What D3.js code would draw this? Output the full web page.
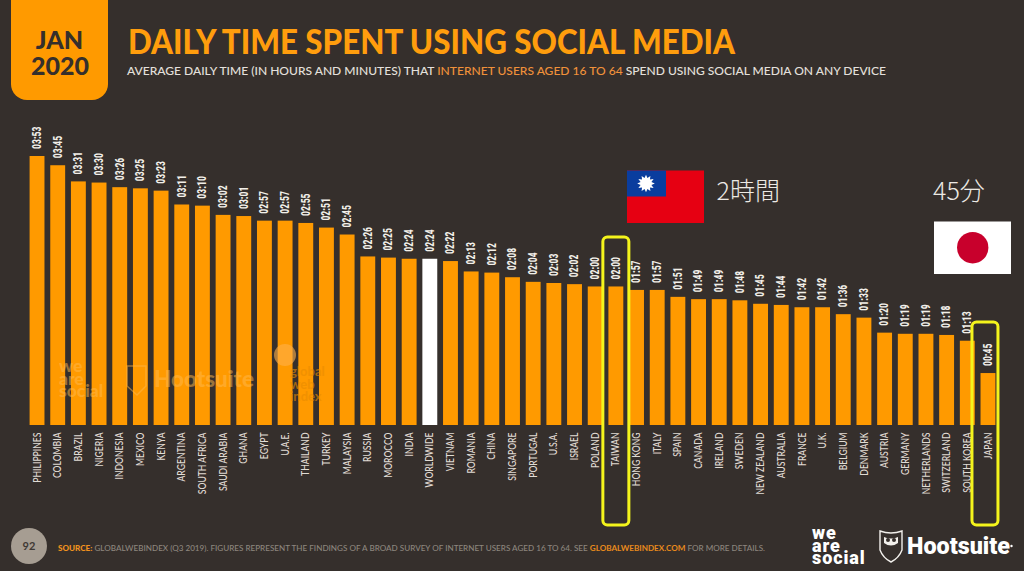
<!DOCTYPE html>
<html><head><meta charset="utf-8">
<script src="https://cdn.jsdelivr.net/npm/d3@7"></script>
<style>html,body{margin:0;padding:0;background:#352f2c;overflow:hidden}svg{display:block}</style>
</head><body><svg id="c" width="1024" height="571"></svg>
<script>
const categories=["PHILIPPINES","COLOMBIA","BRAZIL","NIGERIA","INDONESIA","MEXICO","KENYA","ARGENTINA","SOUTH AFRICA","SAUDI ARABIA","GHANA","EGYPT","U.A.E.","THAILAND","TURKEY","MALAYSIA","RUSSIA","MOROCCO","INDIA","WORLDWIDE","VIETNAM","ROMANIA","CHINA","SINGAPORE","PORTUGAL","U.S.A.","ISRAEL","POLAND","TAIWAN","HONG KONG","ITALY","SPAIN","CANADA","IRELAND","SWEDEN","NEW ZEALAND","AUSTRALIA","FRANCE","U.K.","BELGIUM","DENMARK","AUSTRIA","GERMANY","NETHERLANDS","SWITZERLAND","SOUTH KOREA","JAPAN"];
const timeLabels=["03:53","03:45","03:31","03:30","03:26","03:25","03:23","03:11","03:10","03:02","03:01","02:57","02:57","02:55","02:51","02:45","02:26","02:25","02:24","02:24","02:22","02:13","02:12","02:08","02:04","02:03","02:02","02:00","02:00","01:57","01:57","01:51","01:49","01:49","01:48","01:45","01:44","01:42","01:42","01:36","01:33","01:20","01:19","01:19","01:18","01:13","00:45"];
const highlighted=["TAIWAN","JAPAN"];
const worldwide="WORLDWIDE";
const minutes=timeLabels.map(t=>{const [h,m]=t.split(":").map(Number);return h*60+m;});

const svg=d3.select("#c");
const BG="#352f2c",OR="#ff9a00";
svg.append("rect").attr("width",1024).attr("height",571).attr("fill",BG);

const x=d3.scaleBand().domain(categories).range([26.7,998.3]).paddingInner(.28).paddingOuter(.14);
const y=d3.scaleLinear().domain([0,233]).range([425,156]);

// badge
svg.append("path").attr("d","M11,0H108V84a16,16 0 0 1 -16,16H27a16,16 0 0 1 -16,-16Z").attr("fill",OR);
const sans="Lato, 'Open Sans', sans-serif";
const badge=svg.append("g").attr("font-family",sans).attr("font-weight",900).attr("fill",BG).attr("text-anchor","middle");
badge.append("text").attr("x",59.5).attr("y",49).attr("font-size",25).text("JAN");
badge.append("text").attr("x",60).attr("y",75).attr("font-size",25).text("2020");

// title
svg.append("text").attr("x",128).attr("y",54).attr("font-family",sans).attr("font-weight",900).attr("font-size",35)
  .attr("fill","#ff9d0d").attr("textLength",607).attr("lengthAdjust","spacingAndGlyphs").text("DAILY TIME SPENT USING SOCIAL MEDIA");
const sub=svg.append("text").attr("x",127).attr("y",75).attr("font-family",sans).attr("font-weight",500).attr("font-size",12)
  .attr("fill","#e4e0dc").attr("textLength",759).attr("lengthAdjust","spacingAndGlyphs");
sub.append("tspan").text("AVERAGE DAILY TIME (IN HOURS AND MINUTES) THAT ");
sub.append("tspan").attr("fill","#f0913a").text("INTERNET USERS AGED 16 TO 64");
sub.append("tspan").text(" SPEND USING SOCIAL MEDIA ON ANY DEVICE");

// bars
const data=categories.map((c,i)=>({c,v:minutes[i],t:timeLabels[i]}));
svg.append("g").selectAll("rect").data(data).join("rect")
  .attr("x",d=>x(d.c)).attr("width",x.bandwidth()).attr("y",d=>y(d.v)).attr("height",d=>y(0)-y(d.v))
  .attr("fill",d=>d.c===worldwide?"#ffffff":OR);

// watermarks
function stacked(g,lines,xx,y0,step){
  const t=g.append("text").attr("x",xx).attr("y",y0);
  lines.forEach((s,i)=>t.append("tspan").attr("x",xx).attr("y",y0+i*step).text(s));
  return t;
}
const wm=svg.append("g").attr("fill","#ffb84d").attr("opacity",.5).attr("font-family",sans).attr("font-weight",900);
stacked(wm,["we","are","social"],59,372,12.5).attr("font-size",17.5);
wm.append("text").attr("x",154).attr("y",387).attr("font-size",22).attr("textLength",100).attr("lengthAdjust","spacingAndGlyphs").text("Hootsuite");
wm.append("path").attr("d","M127,366h19v20l-9,9l-10,-9Z").attr("fill","none").attr("stroke","#ffb84d").attr("stroke-width",1.5);
const wm2=svg.append("g").attr("fill","#e98c00").attr("opacity",.6).attr("font-family",sans).attr("font-weight",700);
wm2.append("circle").attr("cx",285).attr("cy",355).attr("r",11).attr("fill","#ffb14a");
stacked(wm2,["global","web","index"],290,376,12.5).attr("font-size",13);

// value labels
svg.append("g").selectAll("text").data(data).join("text")
  .attr("transform",d=>`translate(${x(d.c)+x.bandwidth()/2+3.8},${y(d.v)-7}) rotate(-90)`)
  .attr("font-family","'Liberation Sans Narrow','Roboto Condensed',Roboto,sans-serif").attr("font-weight",700)
  .attr("font-size",12).attr("fill","#f2efe9").attr("textLength",22.5).attr("lengthAdjust","spacingAndGlyphs").text(d=>d.t);

// category axis
const axis=svg.append("g").attr("transform","translate(0,425)").call(d3.axisBottom(x).tickSize(0));
axis.select(".domain").remove();
axis.selectAll("text").attr("font-family",sans).attr("font-weight",500).attr("font-size",10.5).attr("fill","#e0dbd4")
  .attr("text-anchor","end").attr("dy",0).attr("y",0)
  .attr("transform","translate(3.6,7.5) rotate(-90) scale(.82,1)");

// highlight frames
const frame=[{c:"TAIWAN",top:237,dx:0},{c:"JAPAN",top:322,dx:-3}];
svg.append("g").selectAll("rect").data(frame.filter(f=>highlighted.includes(f.c))).join("rect")
  .attr("x",f=>x(f.c)+x.bandwidth()/2-13+f.dx).attr("width",26).attr("y",f=>f.top).attr("height",f=>525-f.top)
  .attr("rx",4.5).attr("fill","none").attr("stroke","#f4f41c").attr("stroke-width",3);

// Taiwan flag
const tw=svg.append("g").attr("transform","translate(627,170.5)");
tw.append("rect").attr("width",77).attr("height",52.5).attr("fill","#e60012");
tw.append("rect").attr("width",39).attr("height",26).attr("fill","#0a3d9e");
const rays=d3.range(24).map(i=>{const a=i*Math.PI/12,r=i%2?5.6:8.8;return [19+r*Math.sin(a),13-r*Math.cos(a)];});
tw.append("polygon").attr("points",rays.map(p=>p.join(",")).join(" ")).attr("fill","#fff");
tw.append("circle").attr("cx",19).attr("cy",13).attr("r",4.6).attr("fill","#fff");
// Japan flag
const jp=svg.append("g").attr("transform","translate(934,221.5)");
jp.append("rect").attr("width",77).attr("height",52.5).attr("fill","#fff");
jp.append("circle").attr("cx",38.7).attr("cy",26.2).attr("r",15.7).attr("fill","#c8002c");

const cjk=svg.append("g").attr("font-family","'Noto Sans CJK JP',sans-serif").attr("font-weight",300).attr("font-size",25).attr("fill","#ece9e4");
cjk.append("text").attr("x",716.5).attr("y",200).text("2時間");
cjk.append("text").attr("x",933).attr("y",200).text("45分");

// footer
svg.append("circle").attr("cx",29).attr("cy",546).attr("r",18).attr("fill","#a69d92");
svg.append("text").attr("x",29).attr("y",550).attr("text-anchor","middle").attr("font-family",sans).attr("font-weight",700).attr("font-size",11).attr("fill","#3f3935").text("92");
const src=svg.append("text").attr("x",58).attr("y",550.5).attr("font-family",sans).attr("font-weight",500).attr("font-size",8)
  .attr("fill","#8d867e").attr("textLength",707).attr("lengthAdjust","spacingAndGlyphs");
src.append("tspan").attr("fill","#f0921e").attr("font-weight",900).text("SOURCE:");
src.append("tspan").text(" GLOBALWEBINDEX (Q3 2019). FIGURES REPRESENT THE FINDINGS OF A BROAD SURVEY OF INTERNET USERS AGED 16 TO 64. SEE ");
src.append("tspan").attr("fill","#e88a1c").attr("font-weight",700).text("GLOBALWEBINDEX.COM");
src.append("tspan").text(" FOR MORE DETAILS.");

// logos
const ws=svg.append("g").attr("font-family","Roboto,Inter,sans-serif").attr("font-weight",900).attr("fill","#fff");
stacked(ws,["we","are","social"],812,539,12.5).attr("font-size",18).attr("letter-spacing",.9);
const owl=svg.append("g").attr("fill","none").attr("stroke","#f2f0ec").attr("stroke-width",1.4);
owl.append("path").attr("d","M880,531q11,4 22,0v19q-3,8 -11,12q-8,-4 -11,-12Z");
owl.append("path").attr("d","M884,537q7,3 14,0v6q-7,5 -14,0Z").attr("fill","#f2f0ec").attr("stroke","none");
owl.append("circle").attr("cx",888).attr("cy",540).attr("r",2).attr("fill",BG).attr("stroke","none");
owl.append("circle").attr("cx",894).attr("cy",540).attr("r",2).attr("fill",BG).attr("stroke","none");
svg.append("text").attr("x",907).attr("y",554).attr("font-family","Roboto,Inter,sans-serif").attr("font-weight",900).attr("font-size",23.5).attr("fill","#fff").attr("textLength",103).attr("lengthAdjust","spacingAndGlyphs").text("Hootsuite");
svg.append("circle").attr("cx",1011.5).attr("cy",546).attr("r",1.2).attr("fill","#fff");
</script></body></html>
